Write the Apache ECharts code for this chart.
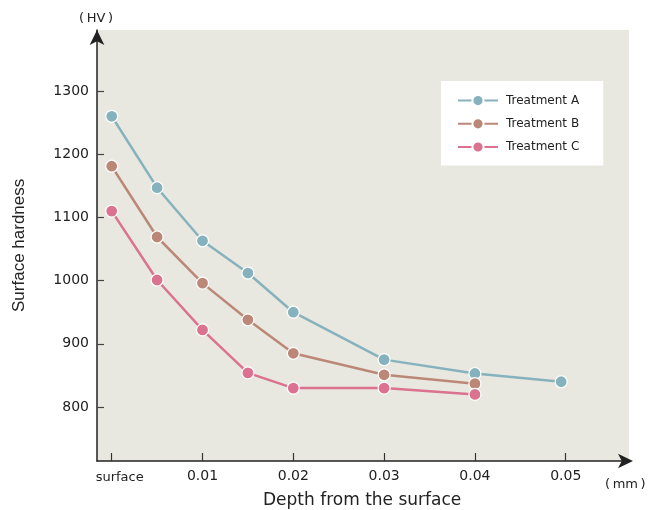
<!DOCTYPE html>
<html><head><meta charset="utf-8">
<script src="https://cdn.jsdelivr.net/npm/echarts@6/dist/echarts.min.js"></script>
<style>html,body{margin:0;padding:0;background:#fff}#c{width:648px;height:510px}</style>
</head><body><div id="c"></div>
<script>
const depthsA = [0, 0.005, 0.01, 0.015, 0.02, 0.03, 0.04, 0.0495];
const valuesA = [1260, 1147, 1063, 1012, 950, 875, 853, 840];
const depthsB = [0, 0.005, 0.01, 0.015, 0.02, 0.03, 0.04];
const valuesB = [1181, 1069, 996, 938, 885, 851, 837];
const depthsC = [0, 0.005, 0.01, 0.015, 0.02, 0.03, 0.04];
const valuesC = [1110, 1001, 922, 854, 830, 830, 820];
const seriesNames = ['Treatment A', 'Treatment B', 'Treatment C'];
const xTicks = [0, 0.01, 0.02, 0.03, 0.04, 0.05];
const xTickLabels = ['surface', '0.01', '0.02', '0.03', '0.04', '0.05'];
const yTicks = [800, 900, 1000, 1100, 1200, 1300];
const colors = ['#86b2bd', '#bb8878', '#da7290'];

const zip = (xs, ys) => xs.map((x, i) => [x, ys[i]]);
const font = '"DejaVu Sans", sans-serif';
const font2 = '"Liberation Sans", Arial, sans-serif';
const chart = echarts.init(document.getElementById('c'));
const mkSeries = (name, data, color) => ({
  name, type: 'line', data, symbol: 'circle', symbolSize: 12,
  lineStyle: {color, width: 2.5},
  itemStyle: {color, borderColor: '#fff', borderWidth: 1.2},
  emphasis: {disabled: true}
});
chart.setOption({
  animation: false,
  textStyle: {fontFamily: font},
  grid: {left: 97, right: 19, top: 30, bottom: 49, show: true, backgroundColor: '#e9e8e0', borderWidth: 0},
  legend: {
    orient: 'vertical', left: 441, top: 81,
    backgroundColor: '#ffffff', padding: [13, 24, 12, 16],
    itemWidth: 40, itemHeight: 14, itemGap: 10,
    textStyle: {fontSize: 12, color: '#222', fontFamily: font, padding: [0, 0, 0, 3]},
    data: seriesNames
  },
  xAxis: {
    type: 'value', min: -0.00162, max: 0.05697,
    axisLine: {show: true, onZero: false, lineStyle: {color: '#222', width: 1.5}, symbol: ['none', 'arrow'], symbolSize: [11, 15], symbolOffset: [0, 4]},
    axisTick: {show: true, inside: true, length: 8, customValues: xTicks, lineStyle: {color: '#333', width: 1.2}},
    axisLabel: {customValues: xTicks, fontSize: 14, color: '#222', margin: 8, fontFamily: font,
      formatter: v => { const i = xTicks.findIndex(t => Math.abs(t - v) < 1e-9); return i === 0 ? '{s|' + xTickLabels[i] + '}' : (i >= 0 ? xTickLabels[i] : ''); },
      rich: {s: {fontSize: 13, color: '#222', fontFamily: font, padding: [2, 0, 0, 16]}}},
    splitLine: {show: false}
  },
  yAxis: {
    type: 'value', min: 714.6, max: 1396.5,
    axisLine: {show: true, onZero: false, lineStyle: {color: '#222', width: 1.5}, symbol: ['none', 'arrow'], symbolSize: [11, 15], symbolOffset: [0, 0]},
    axisTick: {show: true, inside: true, length: 7, customValues: yTicks, lineStyle: {color: '#444', width: 1.2}},
    axisLabel: {customValues: yTicks, fontSize: 14, color: '#222', margin: 8, fontFamily: font, formatter: v => String(v)},
    splitLine: {show: false}
  },
  graphic: [
    {type: 'text', left: 79, top: 12, style: {text: '(\u2009HV\u2009)', font: '13px ' + font, fill: '#222'}},
    {type: 'text', left: 605, top: 478, style: {text: '(\u2009mm\u2009)', font: '13px ' + font, fill: '#222'}},
    {type: 'text', left: 263, top: 492, style: {text: 'Depth from the surface', font: '17px ' + font, fill: '#222'}},
    {type: 'text', x: 11, y: 312, rotation: Math.PI / 2, style: {text: 'Surface hardness', font: '17px ' + font2, fill: '#222'}}
  ],
  series: [
    mkSeries(seriesNames[0], zip(depthsA, valuesA), colors[0]),
    mkSeries(seriesNames[1], zip(depthsB, valuesB), colors[1]),
    mkSeries(seriesNames[2], zip(depthsC, valuesC), colors[2])
  ]
});
</script></body></html>
